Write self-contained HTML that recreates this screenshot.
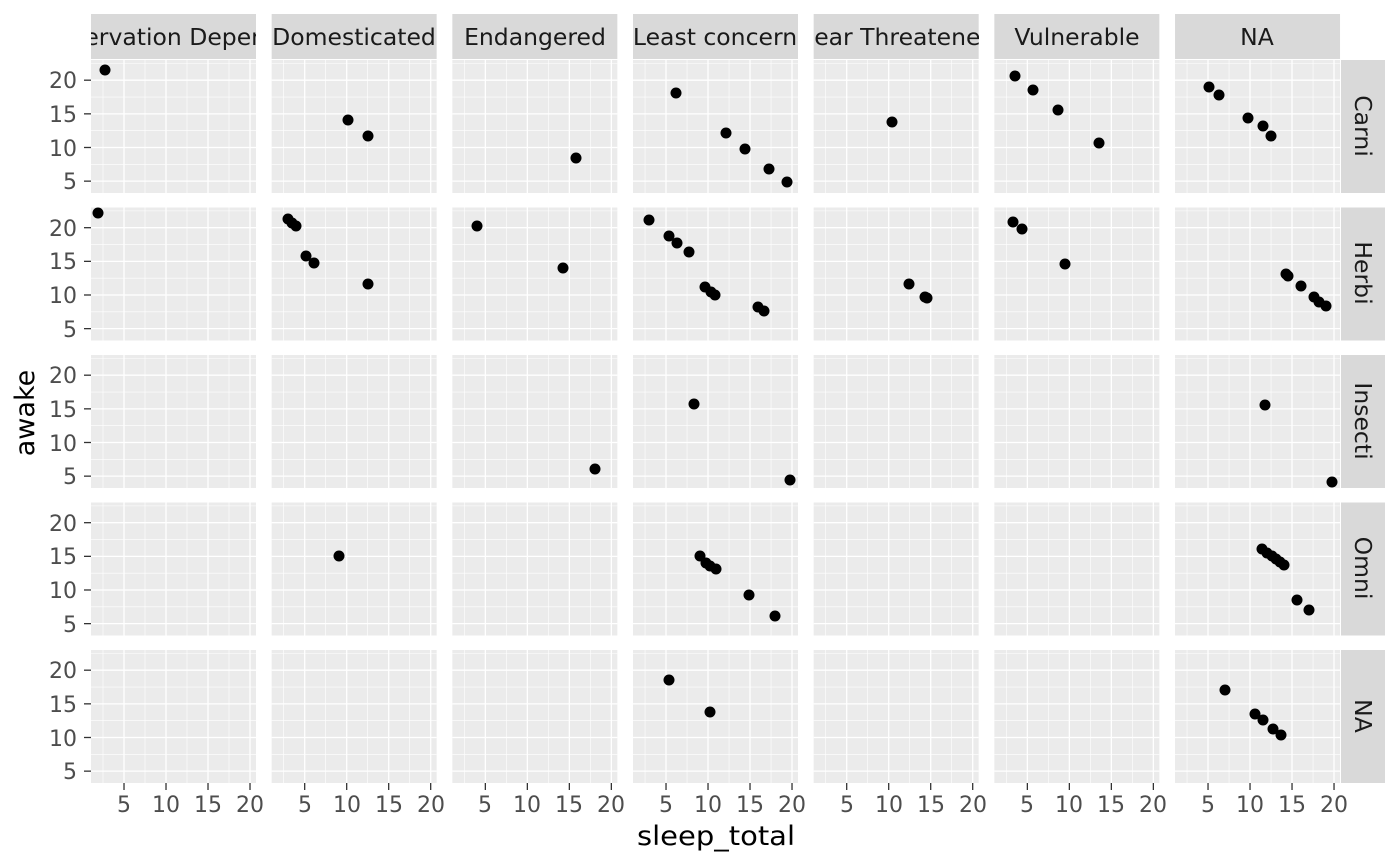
<!DOCTYPE html>
<html><head><meta charset="utf-8"><style>
body{margin:0;background:#fff;}
svg{display:block;font-family:"DejaVu Sans","Liberation Sans",sans-serif;}
.yt{font-size:22px;fill:#4d4d4d;text-anchor:end}
.xt{font-size:22px;fill:#4d4d4d;text-anchor:middle}
.st{font-size:23.5px;fill:#1a1a1a;text-anchor:middle}
</style></head><body>
<svg id="s" width="1400" height="866" xmlns="http://www.w3.org/2000/svg">
<defs>
<clipPath id="c0"><rect x="91" y="14" width="165" height="45"/></clipPath>
<clipPath id="c1"><rect x="272" y="14" width="165" height="45"/></clipPath>
<clipPath id="c2"><rect x="452" y="14" width="165" height="45"/></clipPath>
<clipPath id="c3"><rect x="633" y="14" width="165" height="45"/></clipPath>
<clipPath id="c4"><rect x="814" y="14" width="165" height="45"/></clipPath>
<clipPath id="c5"><rect x="994" y="14" width="165" height="45"/></clipPath>
<clipPath id="c6"><rect x="1175" y="14" width="165" height="45"/></clipPath>
</defs>
<g id="g"></g>
<g class="st">
<text x="173" y="45" clip-path="url(#c0)">Conservation Dependent</text>
<text x="354" y="45" clip-path="url(#c1)">Domesticated</text>
<text x="535" y="45" clip-path="url(#c2)">Endangered</text>
<text x="715" y="45" clip-path="url(#c3)">Least concern</text>
<text x="896" y="45" clip-path="url(#c4)">Near Threatened</text>
<text x="1077" y="45" clip-path="url(#c5)">Vulnerable</text>
<text x="1257" y="45" clip-path="url(#c6)">NA</text>
</g>
<g class="st">
<text transform="translate(1355,126) rotate(90)">Carni</text>
<text transform="translate(1355,273) rotate(90)">Herbi</text>
<text transform="translate(1355,421) rotate(90)">Insecti</text>
<text transform="translate(1355,568) rotate(90)">Omni</text>
<text transform="translate(1355,716) rotate(90)">NA</text>
</g>
<g class="yt">
<text x="77" y="88">20</text><text x="77" y="122">15</text><text x="77" y="156">10</text><text x="77" y="189">5</text>
<text x="77" y="236">20</text><text x="77" y="269">15</text><text x="77" y="303">10</text><text x="77" y="337">5</text>
<text x="77" y="383">20</text><text x="77" y="417">15</text><text x="77" y="451">10</text><text x="77" y="484">5</text>
<text x="77" y="531">20</text><text x="77" y="564">15</text><text x="77" y="598">10</text><text x="77" y="632">5</text>
<text x="77" y="678">20</text><text x="77" y="712">15</text><text x="77" y="746">10</text><text x="77" y="779">5</text>
</g>
<g class="xt">
<text x="124" y="812">5</text><text x="166" y="812">10</text><text x="208" y="812">15</text><text x="250" y="812">20</text>
<text x="305" y="812">5</text><text x="347" y="812">10</text><text x="389" y="812">15</text><text x="431" y="812">20</text>
<text x="485" y="812">5</text><text x="527" y="812">10</text><text x="569" y="812">15</text><text x="611" y="812">20</text>
<text x="666" y="812">5</text><text x="708" y="812">10</text><text x="750" y="812">15</text><text x="792" y="812">20</text>
<text x="847" y="812">5</text><text x="889" y="812">10</text><text x="931" y="812">15</text><text x="973" y="812">20</text>
<text x="1027" y="812">5</text><text x="1069" y="812">10</text><text x="1111" y="812">15</text><text x="1153" y="812">20</text>
<text x="1208" y="812">5</text><text x="1250" y="812">10</text><text x="1292" y="812">15</text><text x="1334" y="812">20</text>
</g>
<text x="637" y="845" font-size="27" fill="#000" textLength="158" lengthAdjust="spacingAndGlyphs">sleep_total</text>
<text transform="translate(34,413) rotate(-90)" font-size="27" fill="#000" text-anchor="middle">awake</text>
</svg>
<script>
const g=document.getElementById('g');let h='';
const L=c=>91+180.67*c, T=r=>60+147.5*r, W=165, H=133;
const X=(c,v)=>L(c)+(v-1.07)*8.4, Y=(r,v)=>T(r)+(23.0-v)*6.73;
for(let c=0;c<7;c++){h+=`<rect x="${L(c)}" y="14" width="${W}" height="45" fill="#d9d9d9"/>`;}
for(let r=0;r<5;r++){h+=`<rect x="1341" y="${T(r)}" width="44" height="${H}" fill="#d9d9d9"/>`;}
for(let r=0;r<5;r++)for(let c=0;c<7;c++){
 h+=`<rect x="${L(c)}" y="${T(r)}" width="${W}" height="${H}" fill="#ebebeb"/>`;
 for(const v of [2.5,7.5,12.5,17.5]) h+=`<line x1="${X(c,v)}" x2="${X(c,v)}" y1="${T(r)}" y2="${T(r)+H}" stroke="#fff" stroke-width="0.6"/>`;
 for(const v of [7.5,12.5,17.5,22.5]) h+=`<line y1="${Y(r,v)}" y2="${Y(r,v)}" x1="${L(c)}" x2="${L(c)+W}" stroke="#fff" stroke-width="0.6"/>`;
 for(const v of [5,10,15,20]){h+=`<line x1="${X(c,v)}" x2="${X(c,v)}" y1="${T(r)}" y2="${T(r)+H}" stroke="#fff" stroke-width="1.3"/>`;
  h+=`<line y1="${Y(r,v)}" y2="${Y(r,v)}" x1="${L(c)}" x2="${L(c)+W}" stroke="#fff" stroke-width="1.3"/>`;}
}
for(let r=0;r<5;r++)for(const v of [5,10,15,20])h+=`<line x1="84" x2="91" y1="${Y(r,v)}" y2="${Y(r,v)}" stroke="#333" stroke-width="1.3"/>`;
for(let c=0;c<7;c++)for(const v of [5,10,15,20])h+=`<line y1="783" y2="790" x1="${X(c,v)}" x2="${X(c,v)}" stroke="#333" stroke-width="1.3"/>`;
const P=[[105,70],[348,120],[368,136],[576,158],[676,93],[726,133],[745,149],[769,169],[787,182],[892,122],[1015,76],[1033,90],[1058,110],[1099,143],[1209,87],[1219,95],[1248,118],[1263,126],[1271,136],
[98,213],[288,219],[292,223],[296,226],[306,256],[314,263],[368,284],[477,226],[563,268],[649,220],[669,236],[677,243],[689,252],[705,287],[711,292],[715,295],[758,307],[764,311],[909,284],[925,297],[927,298],[1013,222],[1022,229],[1065,264],[1286,274],[1288,276],[1301,286],[1314,297],[1319,302],[1326,306],
[694,404],[790,480],[595,469],[1265,405],[1332,482],
[339,556],[700,556],[706,563],[710,566],[716,569],[749,595],[775,616],[1262,549],[1267,553],[1272,556],[1276,559],[1280,562],[1284,565],[1297,600],[1309,610],
[669,680],[710,712],[1225,690],[1255,714],[1263,720],[1273,729],[1281,735]];
for(const [x,y] of P)h+=`<circle cx="${x}" cy="${y}" r="5.5" fill="#000"/>`;
g.innerHTML=h;
</script>
</body></html>
